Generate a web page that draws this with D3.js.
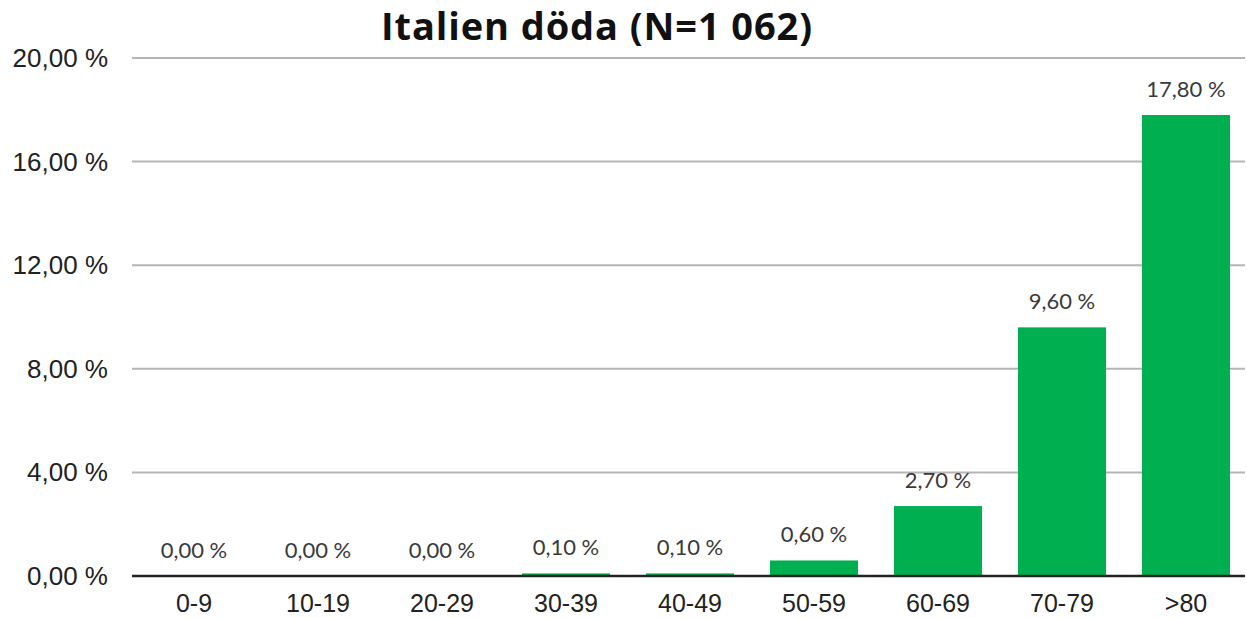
<!DOCTYPE html>
<html>
<head>
<meta charset="utf-8">
<script src="https://cdn.jsdelivr.net/npm/d3@7"></script>
<style>
  html, body { margin: 0; padding: 0; background: #fff; }
  svg { display: block; }
</style>
</head>
<body>
<svg id="chart" width="1247" height="618"></svg>
<script>
const titleText = "Italien döda (N=1 062)";
const categories = ["0-9", "10-19", "20-29", "30-39", "40-49", "50-59", "60-69", "70-79", ">80"];
const values = [0.0, 0.0, 0.0, 0.1, 0.1, 0.6, 2.7, 9.6, 17.8];
const yTicks = [0, 4, 8, 12, 16, 20];

const svg = d3.select("#chart");
const fmt = v => v.toFixed(2).replace(".", ",") + " %";

const x = d3.scaleBand().domain(categories).range([132, 1248]).paddingInner(0.29).paddingOuter(0.145);
const y = d3.scaleLinear().domain([0, 20]).range([576, 58]);

// gridlines
svg.append("g").selectAll("line").data(yTicks.filter(t => t > 0)).join("line")
  .attr("x1", 132).attr("x2", 1245)
  .attr("y1", d => y(d)).attr("y2", d => y(d))
  .attr("stroke", "#b5b5b5").attr("stroke-width", 2);

// y tick labels
svg.append("g").selectAll("text").data(yTicks).join("text")
  .attr("x", 108).attr("y", d => y(d) + 9)
  .attr("text-anchor", "end")
  .attr("font-family", "Liberation Sans, Arial, sans-serif")
  .attr("font-size", 26).attr("fill", "#222")
  .text(fmt);

// bars
svg.append("g").selectAll("rect").data(values).join("rect")
  .attr("x", (d, i) => x(categories[i]))
  .attr("width", x.bandwidth())
  .attr("y", d => y(d))
  .attr("height", d => y(0) - y(d))
  .attr("fill", "#00b050");

// axis line
svg.append("line").attr("x1", 132).attr("x2", 1245)
  .attr("y1", y(0)).attr("y2", y(0))
  .attr("stroke", "#222").attr("stroke-width", 2.5);

// value labels
svg.append("g").selectAll("text").data(values).join("text")
  .attr("x", (d, i) => x(categories[i]) + x.bandwidth() / 2)
  .attr("y", d => y(d) - 18)
  .attr("text-anchor", "middle")
  .attr("font-family", "Lato, Open Sans, sans-serif")
  .attr("font-size", 22).attr("fill", "#3a3a3a")
  .text(d => fmt(d));

// x labels
svg.append("g").selectAll("text").data(categories).join("text")
  .attr("x", d => x(d) + x.bandwidth() / 2)
  .attr("y", 612)
  .attr("text-anchor", "middle")
  .attr("font-family", "Liberation Sans, Arial, sans-serif")
  .attr("font-size", 25).attr("fill", "#222")
  .text(d => d);

// title
svg.append("text").attr("x", 597).attr("y", 40)
  .attr("text-anchor", "middle")
  .attr("font-family", "Open Sans, Noto Sans, sans-serif")
  .attr("font-weight", "bold").attr("font-size", 38).attr("fill", "#111")
  .attr("letter-spacing", 0.9)
  .text(titleText);
</script>
</body>
</html>
